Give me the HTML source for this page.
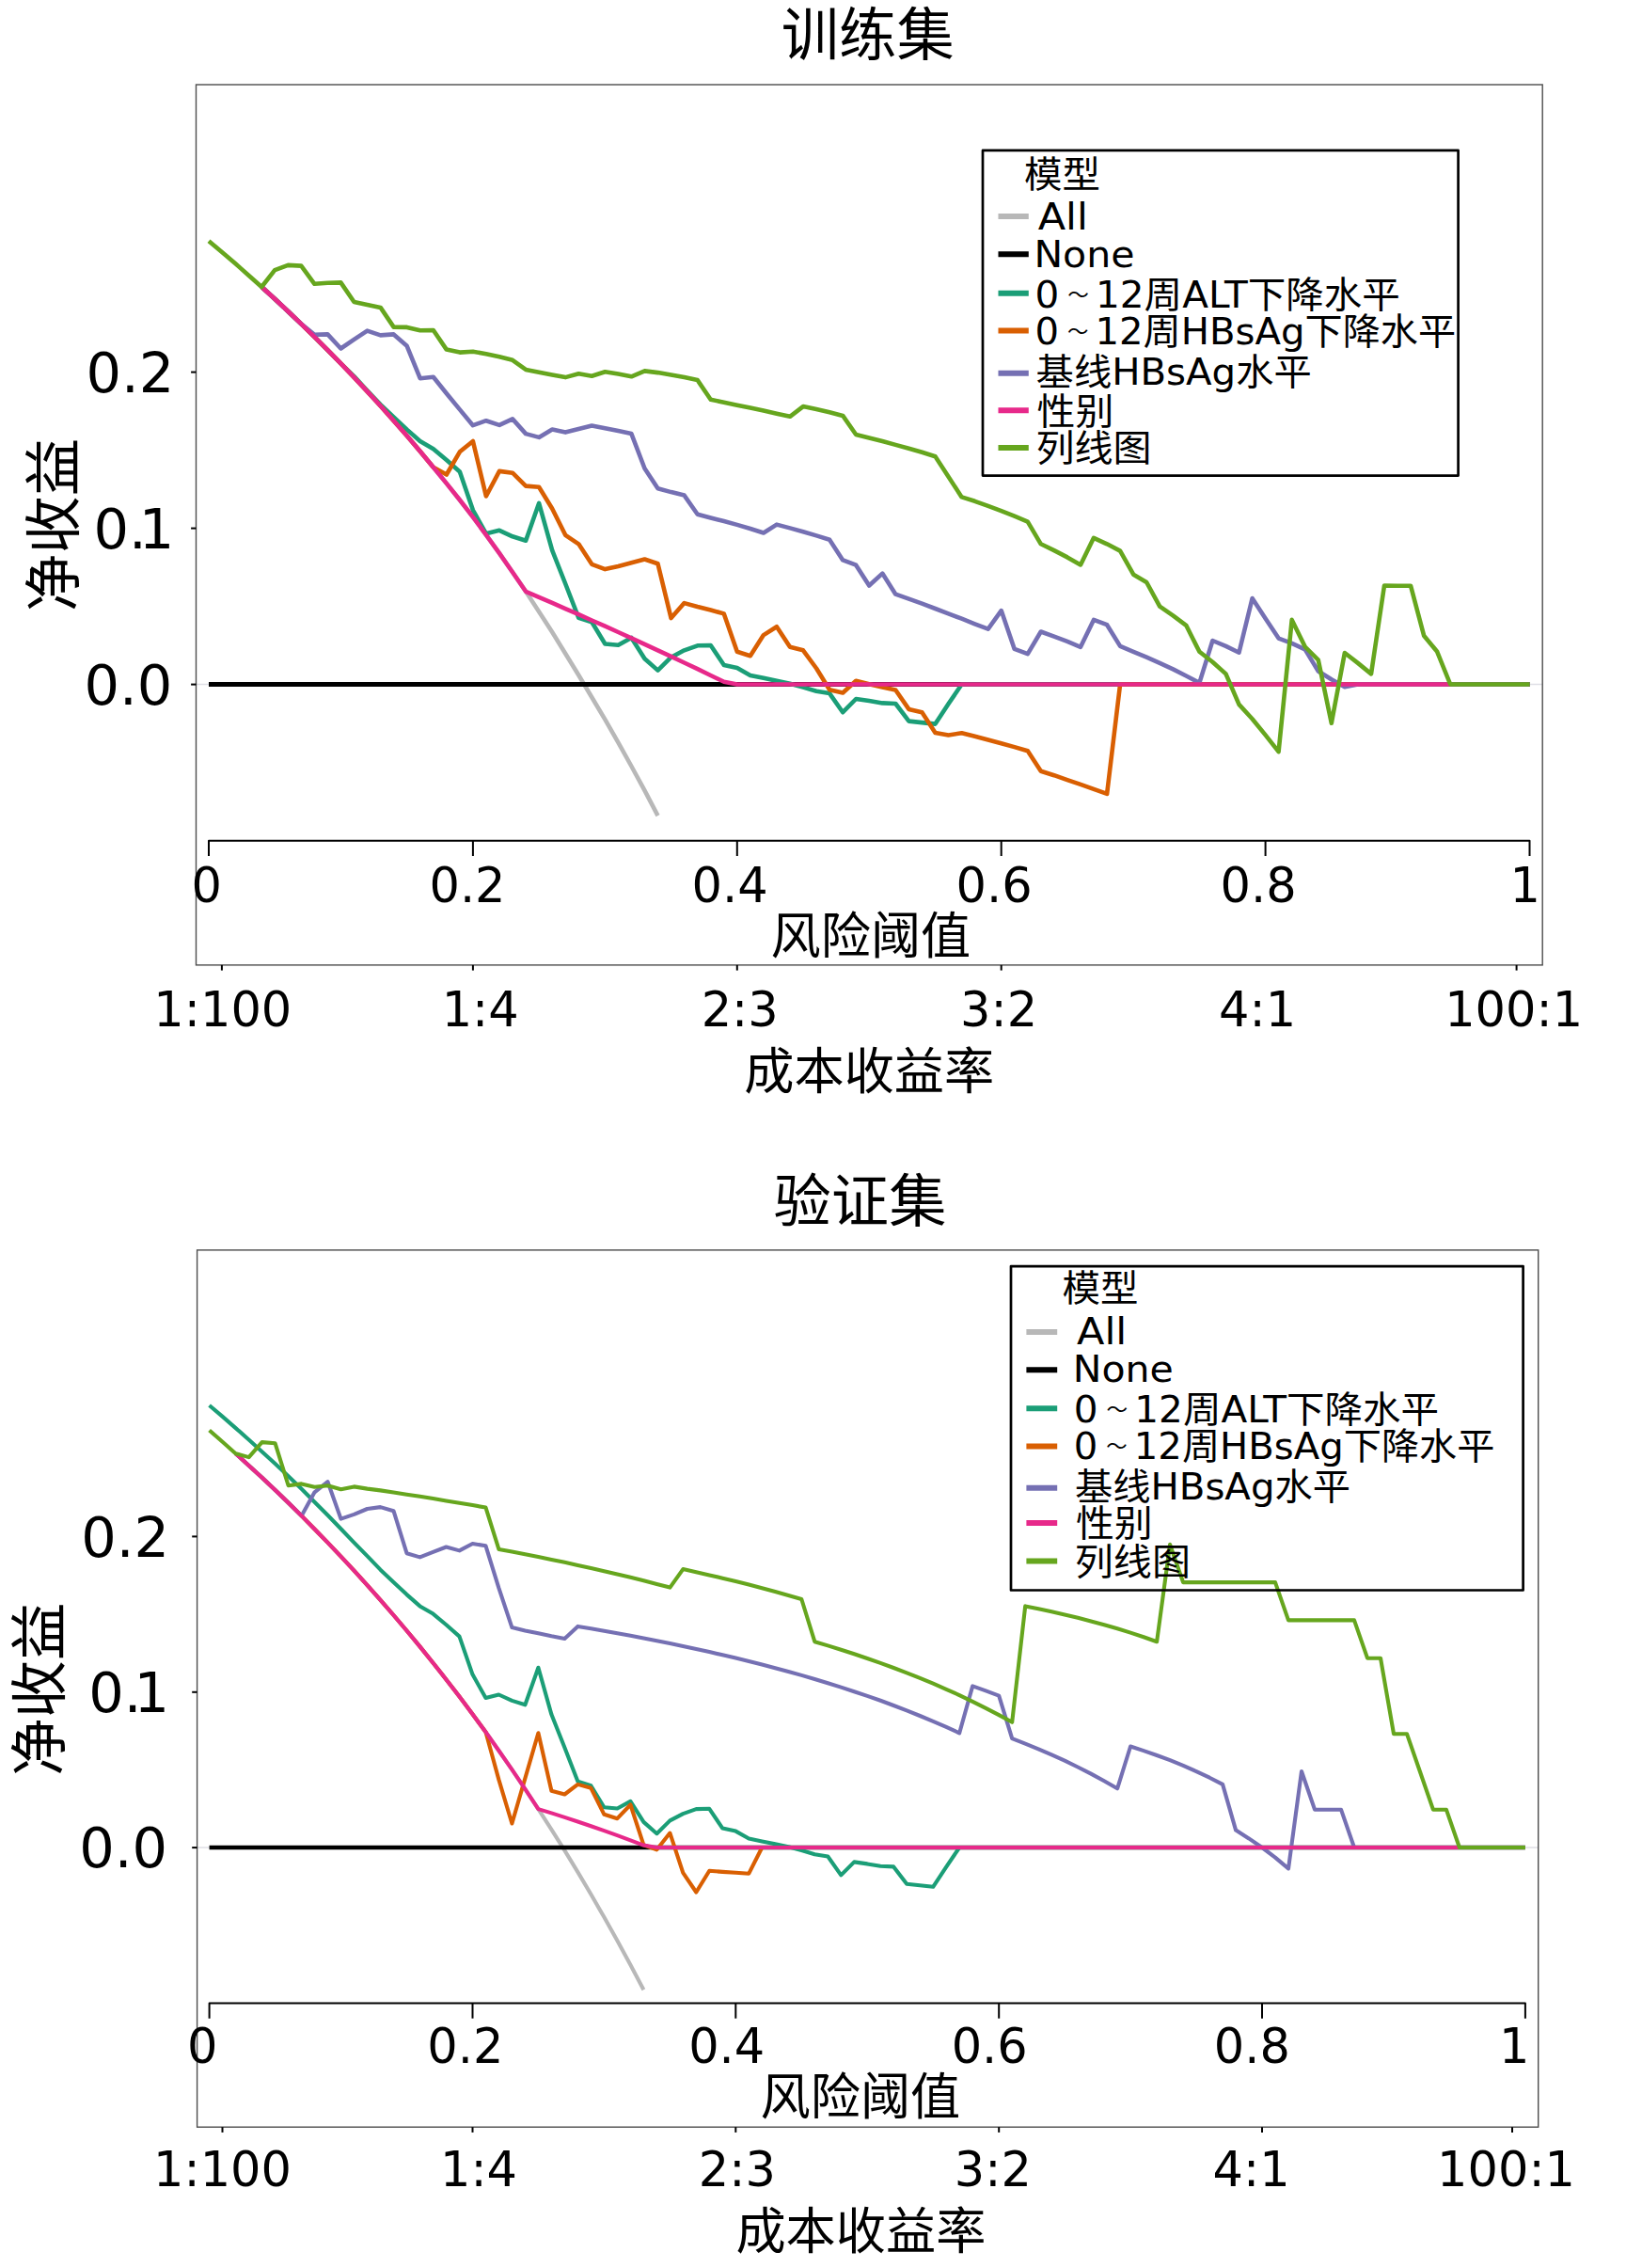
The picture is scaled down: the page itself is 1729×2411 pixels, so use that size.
<!DOCTYPE html>
<html lang="zh-CN">
<head>
<meta charset="utf-8">
<title>决策曲线分析 训练集 / 验证集</title>
<style>
html,body{margin:0;padding:0;background:#fff;}
body{width:1729px;height:2411px;overflow:hidden;}
svg{display:block;}
text{font-family:"DejaVu Sans","Liberation Sans","Noto Sans CJK SC",sans-serif;white-space:pre;}
</style>
</head>
<body>
<svg width="1729" height="2411" viewBox="0 0 1729 2411" font-family='"DejaVu Sans","Liberation Sans","Noto Sans CJK SC",sans-serif' fill="#000">
<rect x="0" y="0" width="1729" height="2411" fill="#fff"/>
<!-- top chart -->
<line x1="208.5" y1="727.5" x2="1640.2" y2="727.5" stroke="#dfdfe6" stroke-width="1.3"/>
<g fill="none" stroke-width="4.6" stroke-linejoin="round" stroke-linecap="butt">
<path d="M278.2,305.0 L292.2,317.8 L306.3,331.0 L320.3,344.4 L334.4,358.1 L348.4,372.1 L362.4,386.4 L376.5,401.1 L390.5,416.1 L404.6,431.5 L418.6,447.2 L432.7,463.3 L446.7,479.8 L460.8,496.7 L474.8,513.9 L488.9,531.5 L502.9,549.6 L516.9,568.6 L531.0,588.2 L545.0,608.2 L559.1,628.8 L573.1,650.2 L587.2,672.1 L601.2,694.7 L615.3,717.8 L629.3,741.2 L643.4,764.9 L657.4,789.4 L671.4,814.5 L685.5,840.4 L699.5,867.1" stroke="#b8b8b8"/>
<path d="M222.0,727.5 L1626.5,727.5" stroke="#000000" stroke-width="4.8"/>
<path d="M278.2,305.0 L292.2,317.8 L306.3,331.0 L320.3,344.4 L334.4,358.1 L348.4,372.1 L362.4,386.4 L376.5,400.1 L390.5,415.3 L404.6,430.1 L418.6,443.4 L432.7,456.6 L446.7,469.0 L460.8,477.3 L474.8,489.1 L488.9,501.5 L502.9,542.3 L516.9,567.3 L531.0,563.8 L545.0,570.3 L559.1,574.7 L573.1,534.9 L587.2,585.1 L601.2,620.5 L615.3,656.8 L629.3,661.2 L643.4,684.5 L657.4,685.7 L671.4,678.0 L685.5,700.2 L699.5,712.6 L713.6,698.7 L727.6,691.3 L741.7,686.3 L755.7,686.0 L769.8,707.0 L783.8,709.9 L797.8,717.9 L811.9,720.8 L825.9,723.8 L840.0,726.8 L854.0,730.6 L868.1,734.7 L882.1,737.1 L896.2,757.2 L910.2,743.0 L924.2,745.1 L938.3,747.4 L952.3,748.0 L966.4,766.6 L980.4,768.1 L994.5,769.6 L1008.5,748.3 L1022.6,727.5 L1036.6,727.5 L1050.7,727.5 L1064.7,727.5 L1078.7,727.5 L1092.8,727.5 L1106.8,727.5 L1120.9,727.5 L1134.9,727.5 L1149.0,727.5 L1163.0,727.5 L1177.1,727.5 L1191.1,727.5 L1205.2,727.5 L1219.2,727.5 L1233.2,727.5 L1247.3,727.5 L1261.3,727.5 L1275.4,727.5 L1289.4,727.5 L1303.5,727.5 L1317.5,727.5 L1331.6,727.5 L1345.6,727.5 L1359.6,727.5 L1373.7,727.5 L1387.7,727.5 L1401.8,727.5 L1415.8,727.5 L1429.9,727.5 L1443.9,727.5 L1458.0,727.5 L1472.0,727.5 L1486.0,727.5 L1500.1,727.5 L1514.1,727.5 L1528.2,727.5 L1542.2,727.5 L1556.3,727.5 L1570.3,727.5 L1584.4,727.5 L1598.4,727.5 L1612.5,727.5 L1626.5,727.5" stroke="#1b9e77"/>
<path d="M278.2,305.0 L292.2,317.8 L306.3,331.0 L320.3,344.4 L334.4,358.1 L348.4,372.1 L362.4,386.4 L376.5,401.1 L390.5,416.1 L404.6,431.5 L418.6,447.2 L432.7,463.3 L446.7,479.8 L460.8,496.7 L474.8,504.5 L488.9,480.3 L502.9,469.0 L516.9,527.5 L531.0,500.9 L545.0,502.7 L559.1,516.6 L573.1,517.7 L587.2,540.8 L601.2,568.8 L615.3,578.3 L629.3,599.8 L643.4,605.1 L657.4,601.9 L671.4,598.3 L685.5,594.5 L699.5,599.2 L713.6,657.1 L727.6,641.1 L741.7,645.0 L755.7,648.5 L769.8,652.4 L783.8,692.8 L797.8,697.2 L811.9,675.1 L825.9,666.2 L840.0,687.8 L854.0,691.3 L868.1,710.5 L882.1,733.2 L896.2,736.5 L910.2,723.8 L924.2,727.3 L938.3,730.6 L952.3,733.5 L966.4,753.9 L980.4,757.2 L994.5,779.0 L1008.5,781.4 L1022.6,779.3 L1036.6,782.8 L1050.7,786.4 L1064.7,790.2 L1078.7,794.1 L1092.8,798.2 L1106.8,819.7 L1120.9,824.2 L1134.9,829.2 L1149.0,833.9 L1163.0,838.9 L1177.1,843.9 L1191.1,727.5 L1205.2,727.5 L1219.2,727.5 L1233.2,727.5 L1247.3,727.5 L1261.3,727.5 L1275.4,727.5 L1289.4,727.5 L1303.5,727.5 L1317.5,727.5 L1331.6,727.5 L1345.6,727.5 L1359.6,727.5 L1373.7,727.5 L1387.7,727.5 L1401.8,727.5 L1415.8,727.5 L1429.9,727.5 L1443.9,727.5 L1458.0,727.5 L1472.0,727.5 L1486.0,727.5 L1500.1,727.5 L1514.1,727.5 L1528.2,727.5 L1542.2,727.5 L1556.3,727.5 L1570.3,727.5 L1584.4,727.5 L1598.4,727.5 L1612.5,727.5 L1626.5,727.5" stroke="#d95f02"/>
<path d="M278.2,305.0 L292.2,317.8 L306.3,331.0 L320.3,344.4 L334.4,355.7 L348.4,355.4 L362.4,370.5 L376.5,360.9 L390.5,351.6 L404.6,356.4 L418.6,355.4 L432.7,367.8 L446.7,402.2 L460.8,400.8 L474.8,418.3 L488.9,435.4 L502.9,452.2 L516.9,447.2 L531.0,451.9 L545.0,445.4 L559.1,461.1 L573.1,464.9 L587.2,456.6 L601.2,459.6 L615.3,456.1 L629.3,452.5 L643.4,455.2 L657.4,458.1 L671.4,461.1 L685.5,498.0 L699.5,519.2 L713.6,523.1 L727.6,526.6 L741.7,546.7 L755.7,550.5 L769.8,554.1 L783.8,557.9 L797.8,562.0 L811.9,566.5 L825.9,557.6 L840.0,561.4 L854.0,565.3 L868.1,569.4 L882.1,573.8 L896.2,595.4 L910.2,600.7 L924.2,622.5 L938.3,609.6 L952.3,631.7 L966.4,636.7 L980.4,641.7 L994.5,647.0 L1008.5,652.4 L1022.6,657.7 L1036.6,663.3 L1050.7,668.6 L1064.7,649.1 L1078.7,689.9 L1092.8,695.2 L1106.8,671.5 L1120.9,676.6 L1134.9,681.9 L1149.0,687.8 L1163.0,658.9 L1177.1,664.2 L1191.1,686.9 L1205.2,692.8 L1219.2,698.7 L1233.2,704.9 L1247.3,711.4 L1261.3,718.5 L1275.4,725.9 L1289.4,681.0 L1303.5,686.9 L1317.5,693.7 L1331.6,636.1 L1345.6,657.4 L1359.6,678.6 L1373.7,683.9 L1387.7,690.4 L1401.8,713.5 L1415.8,722.3 L1429.9,730.3 L1443.9,727.5 L1458.0,727.5 L1472.0,727.5 L1486.0,727.5 L1500.1,727.5 L1514.1,727.5 L1528.2,727.5 L1542.2,727.5 L1556.3,727.5 L1570.3,727.5 L1584.4,727.5 L1598.4,727.5 L1612.5,727.5 L1626.5,727.5" stroke="#7570b3"/>
<path d="M278.2,305.0 L292.2,317.8 L306.3,331.0 L320.3,344.4 L334.4,358.1 L348.4,372.1 L362.4,386.4 L376.5,401.1 L390.5,416.1 L404.6,431.5 L418.6,447.2 L432.7,463.3 L446.7,479.8 L460.8,496.7 L474.8,513.9 L488.9,531.5 L502.9,549.6 L516.9,568.6 L531.0,588.2 L545.0,608.2 L559.1,628.8 L573.1,634.9 L587.2,640.9 L601.2,647.1 L615.3,653.2 L629.3,659.5 L643.4,665.7 L657.4,672.0 L671.4,678.4 L685.5,684.9 L699.5,691.4 L713.6,697.9 L727.6,704.5 L741.7,711.2 L755.7,718.0 L769.8,724.8 L783.8,727.5 L797.8,727.5 L811.9,727.5 L825.9,727.5 L840.0,727.5 L854.0,727.5 L868.1,727.5 L882.1,727.5 L896.2,727.5 L910.2,727.5 L924.2,727.5 L938.3,727.5 L952.3,727.5 L966.4,727.5 L980.4,727.5 L994.5,727.5 L1008.5,727.5 L1022.6,727.5 L1036.6,727.5 L1050.7,727.5 L1064.7,727.5 L1078.7,727.5 L1092.8,727.5 L1106.8,727.5 L1120.9,727.5 L1134.9,727.5 L1149.0,727.5 L1163.0,727.5 L1177.1,727.5 L1191.1,727.5 L1205.2,727.5 L1219.2,727.5 L1233.2,727.5 L1247.3,727.5 L1261.3,727.5 L1275.4,727.5 L1289.4,727.5 L1303.5,727.5 L1317.5,727.5 L1331.6,727.5 L1345.6,727.5 L1359.6,727.5 L1373.7,727.5 L1387.7,727.5 L1401.8,727.5 L1415.8,727.5 L1429.9,727.5 L1443.9,727.5 L1458.0,727.5 L1472.0,727.5 L1486.0,727.5 L1500.1,727.5 L1514.1,727.5 L1528.2,727.5 L1542.2,727.5" stroke="#e7298a"/>
<path d="M222.0,256.2 L236.0,268.0 L250.1,280.1 L264.1,292.4 L278.2,305.0 L292.2,287.1 L306.3,281.9 L320.3,282.6 L334.4,301.8 L348.4,300.8 L362.4,300.4 L376.5,321.0 L390.5,324.0 L404.6,326.9 L418.6,347.6 L432.7,347.9 L446.7,351.3 L460.8,351.0 L474.8,371.6 L488.9,374.6 L502.9,373.7 L516.9,376.3 L531.0,379.3 L545.0,382.8 L559.1,392.9 L573.1,395.8 L587.2,398.5 L601.2,401.1 L615.3,397.3 L629.3,399.7 L643.4,395.2 L657.4,397.6 L671.4,400.3 L685.5,394.4 L699.5,396.1 L713.6,398.5 L727.6,401.1 L741.7,404.1 L755.7,424.8 L769.8,427.7 L783.8,430.7 L797.8,433.6 L811.9,436.6 L825.9,439.8 L840.0,442.8 L854.0,432.1 L868.1,435.1 L882.1,438.3 L896.2,441.9 L910.2,462.0 L924.2,465.5 L938.3,469.0 L952.3,472.9 L966.4,476.7 L980.4,480.8 L994.5,485.3 L1008.5,506.8 L1022.6,528.4 L1036.6,532.8 L1050.7,537.8 L1064.7,543.1 L1078.7,548.7 L1092.8,554.6 L1106.8,578.3 L1120.9,585.1 L1134.9,592.4 L1149.0,600.4 L1163.0,571.8 L1177.1,578.3 L1191.1,585.6 L1205.2,610.7 L1219.2,619.0 L1233.2,644.7 L1247.3,654.4 L1261.3,664.8 L1275.4,692.8 L1289.4,703.7 L1303.5,716.4 L1317.5,748.9 L1331.6,764.2 L1345.6,781.4 L1359.6,799.1 L1373.7,658.9 L1387.7,687.5 L1401.8,701.7 L1415.8,768.7 L1429.9,694.0 L1443.9,704.9 L1458.0,716.4 L1472.0,622.5 L1486.0,622.8 L1500.1,622.8 L1514.1,675.7 L1528.2,692.8 L1542.2,727.5 L1556.3,727.5 L1570.3,727.5 L1584.4,727.5 L1598.4,727.5 L1612.5,727.5 L1626.5,727.5" stroke="#66a61e"/>
</g>
<rect x="208.5" y="90.0" width="1431.7" height="935.9" fill="none" stroke="#4d4d4d" stroke-width="1.4"/>
<line x1="203.1" y1="395.6" x2="208.5" y2="395.6" stroke="#000" stroke-width="2.0"/>
<text x="91.40" y="416.70" font-size="59">0.2</text>
<line x1="203.1" y1="561.6" x2="208.5" y2="561.6" stroke="#000" stroke-width="2.0"/>
<text x="99.40" y="582.70" font-size="59">0.<tspan dx="-8">1</tspan></text>
<line x1="203.1" y1="727.6" x2="208.5" y2="727.6" stroke="#000" stroke-width="2.0"/>
<text x="89.40" y="748.70" font-size="59">0.0</text>
<text transform="translate(78.60,650.30) rotate(-90)" font-size="61.5">净收益</text>
<text x="830.80" y="59.30" font-size="61.3">训练集</text>
<path d="M222.0,910.0 V893.8 H1626.5 V910.0" fill="none" stroke="#000" stroke-width="2" stroke-linejoin="round"/>
<text x="203.60" y="959.30" font-size="51">0</text>
<line x1="502.9" y1="893.8" x2="502.9" y2="910.0" stroke="#000" stroke-width="2.0"/>
<text x="456.45" y="959.30" font-size="51">0.2</text>
<line x1="783.8" y1="893.8" x2="783.8" y2="910.0" stroke="#000" stroke-width="2.0"/>
<text x="735.60" y="959.30" font-size="51">0.4</text>
<line x1="1064.7" y1="893.8" x2="1064.7" y2="910.0" stroke="#000" stroke-width="2.0"/>
<text x="1016.50" y="959.30" font-size="51">0.6</text>
<line x1="1345.6" y1="893.8" x2="1345.6" y2="910.0" stroke="#000" stroke-width="2.0"/>
<text x="1297.60" y="959.30" font-size="51">0.8</text>
<text x="1605.60" y="959.30" font-size="51">1</text>
<text x="819.50" y="1014.40" font-size="53.2">风险阈值</text>
<line x1="235.9" y1="1025.9" x2="235.9" y2="1031.6" stroke="#000" stroke-width="2.0"/>
<text x="163.30" y="1091.10" font-size="51">1:100</text>
<line x1="502.9" y1="1025.9" x2="502.9" y2="1031.6" stroke="#000" stroke-width="2.0"/>
<text x="469.65" y="1091.10" font-size="51">1:4</text>
<line x1="783.8" y1="1025.9" x2="783.8" y2="1031.6" stroke="#000" stroke-width="2.0"/>
<text x="745.65" y="1091.10" font-size="51">2:3</text>
<line x1="1064.7" y1="1025.9" x2="1064.7" y2="1031.6" stroke="#000" stroke-width="2.0"/>
<text x="1021.10" y="1091.10" font-size="51">3:2</text>
<text x="1296.00" y="1091.10" font-size="51">4:1</text>
<line x1="1612.6" y1="1025.9" x2="1612.6" y2="1031.6" stroke="#000" stroke-width="2.0"/>
<text x="1536.15" y="1091.10" font-size="51">100:1</text>
<text x="791.25" y="1158.20" font-size="53.2">成本收益率</text>
<rect x="1045.0" y="159.9" width="505.6" height="345.7" fill="none" stroke="#000" stroke-width="2.7" stroke-linejoin="round"/>
<text x="1088.90" y="199.30" font-size="38.6" textLength="81.01" lengthAdjust="spacingAndGlyphs">模型</text>
<line x1="1061.5" y1="230.0" x2="1093.8" y2="230.0" stroke="#b8b8b8" stroke-width="6.0"/>
<text x="1103.70" y="243.70" font-size="38.6" textLength="53.26" lengthAdjust="spacingAndGlyphs">All</text>
<line x1="1061.5" y1="270.2" x2="1093.8" y2="270.2" stroke="#000000" stroke-width="6.0"/>
<text x="1099.45" y="283.50" font-size="38.6" textLength="107.01" lengthAdjust="spacingAndGlyphs">None</text>
<line x1="1061.5" y1="311.7" x2="1093.8" y2="311.7" stroke="#1b9e77" stroke-width="6.0"/>
<text x="1100.55" y="326.90" font-size="38.6" textLength="388.32" lengthAdjust="spacingAndGlyphs">0<tspan font-size="21.5" dx="8.5" dy="-5.8">～</tspan><tspan dx="6.8" dy="5.8">12周ALT下降水平</tspan></text>
<line x1="1061.5" y1="351.6" x2="1093.8" y2="351.6" stroke="#d95f02" stroke-width="6.0"/>
<text x="1100.58" y="365.50" font-size="38.6" textLength="447.60" lengthAdjust="spacingAndGlyphs">0<tspan font-size="21.5" dx="8.5" dy="-5.8">～</tspan><tspan dx="6.8" dy="5.8">12周HBsAg下降水平</tspan></text>
<line x1="1061.5" y1="396.8" x2="1093.8" y2="396.8" stroke="#7570b3" stroke-width="6.0"/>
<text x="1101.61" y="409.10" font-size="38.6" textLength="293.13" lengthAdjust="spacingAndGlyphs">基线HBsAg水平</text>
<line x1="1061.5" y1="436.3" x2="1093.8" y2="436.3" stroke="#e7298a" stroke-width="6.0"/>
<text x="1102.64" y="450.60" font-size="38.6" textLength="81.81" lengthAdjust="spacingAndGlyphs">性别</text>
<line x1="1061.5" y1="476.1" x2="1093.8" y2="476.1" stroke="#66a61e" stroke-width="6.0"/>
<text x="1101.57" y="490.45" font-size="38.6" textLength="123.03" lengthAdjust="spacingAndGlyphs">列线图</text>
<!-- bottom chart -->
<line x1="209.6" y1="1964.0" x2="1635.7" y2="1964.0" stroke="#dfdfe6" stroke-width="1.3"/>
<g fill="none" stroke-width="4.1" stroke-linejoin="round" stroke-linecap="butt">
<path d="M250.6,1545.2 L264.6,1557.9 L278.6,1570.8 L292.6,1584.1 L306.6,1597.6 L320.6,1611.4 L334.5,1625.5 L348.5,1639.9 L362.5,1654.6 L376.5,1669.7 L390.5,1685.1 L404.5,1700.9 L418.5,1717.0 L432.5,1733.5 L446.5,1750.4 L460.5,1767.7 L474.5,1785.4 L488.5,1803.6 L502.5,1822.2 L516.5,1841.3 L530.4,1861.0 L544.4,1881.1 L558.4,1901.8 L572.4,1923.1 L586.4,1944.8 L600.4,1967.2 L614.4,1990.1 L628.4,2013.8 L642.4,2038.1 L656.4,2063.1 L670.4,2088.8 L684.4,2115.3" stroke="#b8b8b8"/>
<path d="M222.6,1964.0 L1621.9,1964.0" stroke="#000000" stroke-width="4.3"/>
<path d="M222.6,1494.0 L236.6,1505.9 L250.6,1518.1 L264.6,1530.5 L278.6,1543.2 L292.6,1556.1 L306.6,1569.3 L320.6,1582.8 L334.5,1596.7 L348.5,1610.8 L362.5,1625.2 L376.5,1639.9 L390.5,1654.1 L404.5,1668.7 L418.5,1681.9 L432.5,1695.1 L446.5,1707.4 L460.5,1715.6 L474.5,1727.3 L488.5,1739.6 L502.5,1780.1 L516.5,1805.0 L530.4,1801.5 L544.4,1807.9 L558.4,1812.3 L572.4,1772.8 L586.4,1822.6 L600.4,1857.8 L614.4,1893.8 L628.4,1898.2 L642.4,1921.3 L656.4,1922.5 L670.4,1914.9 L684.4,1936.9 L698.4,1949.2 L712.4,1935.4 L726.3,1928.1 L740.3,1923.1 L754.3,1922.8 L768.3,1943.6 L782.3,1946.6 L796.3,1954.5 L810.3,1957.4 L824.3,1960.3 L838.3,1963.3 L852.3,1967.1 L866.3,1971.2 L880.3,1973.5 L894.3,1993.4 L908.3,1979.4 L922.2,1981.4 L936.2,1983.8 L950.2,1984.4 L964.2,2002.8 L978.2,2004.3 L992.2,2005.8 L1006.2,1984.7 L1020.2,1964.0 L1034.2,1964.0 L1048.2,1964.0 L1062.2,1964.0 L1076.2,1964.0 L1090.2,1964.0 L1104.2,1964.0 L1118.2,1964.0 L1132.1,1964.0 L1146.1,1964.0 L1160.1,1964.0 L1174.1,1964.0 L1188.1,1964.0 L1202.1,1964.0 L1216.1,1964.0 L1230.1,1964.0 L1244.1,1964.0 L1258.1,1964.0 L1272.1,1964.0 L1286.1,1964.0 L1300.1,1964.0 L1314.1,1964.0 L1328.0,1964.0 L1342.0,1964.0 L1356.0,1964.0 L1370.0,1964.0 L1384.0,1964.0 L1398.0,1964.0 L1412.0,1964.0 L1426.0,1964.0 L1440.0,1964.0 L1454.0,1964.0 L1468.0,1964.0 L1482.0,1964.0 L1496.0,1964.0 L1510.0,1964.0 L1523.9,1964.0 L1537.9,1964.0 L1551.9,1964.0 L1565.9,1964.0 L1579.9,1964.0 L1593.9,1964.0 L1607.9,1964.0 L1621.9,1964.0" stroke="#1b9e77"/>
<path d="M250.6,1545.2 L264.6,1557.9 L278.6,1570.8 L292.6,1584.1 L306.6,1597.6 L320.6,1611.4 L334.5,1625.5 L348.5,1639.9 L362.5,1654.6 L376.5,1669.7 L390.5,1685.1 L404.5,1700.9 L418.5,1717.0 L432.5,1733.5 L446.5,1750.4 L460.5,1767.7 L474.5,1785.4 L488.5,1803.6 L502.5,1822.2 L516.5,1841.3 L530.4,1891.9 L544.4,1938.5 L558.4,1890.4 L572.4,1842.3 L586.4,1903.7 L600.4,1907.5 L614.4,1896.9 L628.4,1900.8 L642.4,1928.8 L656.4,1933.2 L670.4,1918.5 L684.4,1961.3 L698.4,1966.3 L712.4,1948.6 L726.3,1990.8 L740.3,2011.5 L754.3,1988.7 L768.3,1989.9 L782.3,1990.8 L796.3,1991.7 L810.3,1964.0 L824.3,1964.0 L838.3,1964.0 L852.3,1964.0 L866.3,1964.0 L880.3,1964.0 L894.3,1964.0 L908.3,1964.0 L922.2,1964.0 L936.2,1964.0 L950.2,1964.0 L964.2,1964.0 L978.2,1964.0 L992.2,1964.0 L1006.2,1964.0 L1020.2,1964.0 L1034.2,1964.0 L1048.2,1964.0 L1062.2,1964.0 L1076.2,1964.0 L1090.2,1964.0 L1104.2,1964.0 L1118.2,1964.0 L1132.1,1964.0 L1146.1,1964.0 L1160.1,1964.0 L1174.1,1964.0 L1188.1,1964.0 L1202.1,1964.0 L1216.1,1964.0 L1230.1,1964.0 L1244.1,1964.0 L1258.1,1964.0 L1272.1,1964.0 L1286.1,1964.0 L1300.1,1964.0 L1314.1,1964.0 L1328.0,1964.0 L1342.0,1964.0 L1356.0,1964.0 L1370.0,1964.0 L1384.0,1964.0 L1398.0,1964.0 L1412.0,1964.0 L1426.0,1964.0 L1440.0,1964.0 L1454.0,1964.0 L1468.0,1964.0 L1482.0,1964.0 L1496.0,1964.0 L1510.0,1964.0 L1523.9,1964.0 L1537.9,1964.0 L1551.9,1964.0 L1565.9,1964.0 L1579.9,1964.0 L1593.9,1964.0 L1607.9,1964.0 L1621.9,1964.0" stroke="#d95f02"/>
<path d="M250.6,1545.2 L264.6,1557.9 L278.6,1570.8 L292.6,1584.1 L306.6,1597.6 L320.6,1611.4 L334.5,1586.3 L348.5,1575.2 L362.5,1614.6 L376.5,1609.9 L390.5,1604.0 L404.5,1602.1 L418.5,1606.2 L432.5,1651.2 L446.5,1655.4 L460.5,1649.8 L474.5,1644.5 L488.5,1648.4 L502.5,1641.0 L516.5,1643.3 L530.4,1688.2 L544.4,1730.1 L558.4,1733.4 L572.4,1736.3 L586.4,1739.3 L600.4,1741.9 L614.4,1728.9 L628.4,1731.3 L642.4,1733.8 L656.4,1736.3 L670.4,1738.8 L684.4,1741.5 L698.4,1744.2 L712.4,1747.0 L726.3,1750.0 L740.3,1753.0 L754.3,1756.1 L768.3,1759.3 L782.3,1762.6 L796.3,1766.0 L810.3,1769.5 L824.3,1773.2 L838.3,1777.0 L852.3,1780.9 L866.3,1785.0 L880.3,1789.2 L894.3,1793.6 L908.3,1798.2 L922.2,1802.9 L936.2,1807.8 L950.2,1813.0 L964.2,1818.4 L978.2,1824.0 L992.2,1829.8 L1006.2,1835.9 L1020.2,1842.3 L1034.2,1792.4 L1048.2,1797.4 L1062.2,1802.7 L1076.2,1848.2 L1090.2,1853.6 L1104.2,1859.3 L1118.2,1865.4 L1132.1,1871.7 L1146.1,1878.5 L1160.1,1885.6 L1174.1,1893.3 L1188.1,1901.3 L1202.1,1856.5 L1216.1,1861.1 L1230.1,1866.0 L1244.1,1871.2 L1258.1,1876.9 L1272.1,1883.1 L1286.1,1889.7 L1300.1,1896.9 L1314.1,1945.6 L1328.0,1954.4 L1342.0,1964.0 L1356.0,1974.6 L1370.0,1986.4 L1384.0,1883.0 L1398.0,1923.7 L1412.0,1923.7 L1426.0,1923.7 L1440.0,1964.0 L1454.0,1964.0 L1468.0,1964.0 L1482.0,1964.0 L1496.0,1964.0 L1510.0,1964.0 L1523.9,1964.0 L1537.9,1964.0 L1551.9,1964.0 L1565.9,1964.0 L1579.9,1964.0 L1593.9,1964.0 L1607.9,1964.0 L1621.9,1964.0" stroke="#7570b3"/>
<path d="M250.6,1545.2 L264.6,1557.9 L278.6,1570.8 L292.6,1584.1 L306.6,1597.6 L320.6,1611.4 L334.5,1625.5 L348.5,1639.9 L362.5,1654.6 L376.5,1669.7 L390.5,1685.1 L404.5,1700.9 L418.5,1717.0 L432.5,1733.5 L446.5,1750.4 L460.5,1767.7 L474.5,1785.4 L488.5,1803.6 L502.5,1822.2 L516.5,1841.3 L530.4,1861.0 L544.4,1881.1 L558.4,1901.8 L572.4,1923.1 L586.4,1927.4 L600.4,1931.9 L614.4,1936.5 L628.4,1941.2 L642.4,1946.1 L656.4,1951.1 L670.4,1956.3 L684.4,1961.6 L698.4,1964.0 L712.4,1964.0 L726.3,1964.0 L740.3,1964.0 L754.3,1964.0 L768.3,1964.0 L782.3,1964.0 L796.3,1964.0 L810.3,1964.0 L824.3,1964.0 L838.3,1964.0 L852.3,1964.0 L866.3,1964.0 L880.3,1964.0 L894.3,1964.0 L908.3,1964.0 L922.2,1964.0 L936.2,1964.0 L950.2,1964.0 L964.2,1964.0 L978.2,1964.0 L992.2,1964.0 L1006.2,1964.0 L1020.2,1964.0 L1034.2,1964.0 L1048.2,1964.0 L1062.2,1964.0 L1076.2,1964.0 L1090.2,1964.0 L1104.2,1964.0 L1118.2,1964.0 L1132.1,1964.0 L1146.1,1964.0 L1160.1,1964.0 L1174.1,1964.0 L1188.1,1964.0 L1202.1,1964.0 L1216.1,1964.0 L1230.1,1964.0 L1244.1,1964.0 L1258.1,1964.0 L1272.1,1964.0 L1286.1,1964.0 L1300.1,1964.0 L1314.1,1964.0 L1328.0,1964.0 L1342.0,1964.0 L1356.0,1964.0 L1370.0,1964.0 L1384.0,1964.0 L1398.0,1964.0 L1412.0,1964.0 L1426.0,1964.0 L1440.0,1964.0 L1454.0,1964.0 L1468.0,1964.0 L1482.0,1964.0 L1496.0,1964.0 L1510.0,1964.0 L1523.9,1964.0 L1537.9,1964.0 L1551.9,1964.0" stroke="#e7298a"/>
<path d="M222.6,1520.5 L236.6,1532.7 L250.6,1545.2 L264.6,1549.1 L278.6,1533.1 L292.6,1534.3 L306.6,1579.2 L320.6,1577.4 L334.5,1580.8 L348.5,1579.2 L362.5,1583.3 L376.5,1580.4 L390.5,1582.6 L404.5,1584.4 L418.5,1586.5 L432.5,1588.7 L446.5,1590.8 L460.5,1593.1 L474.5,1595.4 L488.5,1597.7 L502.5,1600.1 L516.5,1602.6 L530.4,1646.9 L544.4,1649.5 L558.4,1652.2 L572.4,1655.0 L586.4,1657.9 L600.4,1660.8 L614.4,1663.9 L628.4,1667.0 L642.4,1670.2 L656.4,1673.5 L670.4,1676.8 L684.4,1680.3 L698.4,1683.9 L712.4,1687.6 L726.3,1668.1 L740.3,1671.2 L754.3,1674.4 L768.3,1677.7 L782.3,1681.1 L796.3,1684.6 L810.3,1688.3 L824.3,1692.1 L838.3,1696.0 L852.3,1700.0 L866.3,1745.2 L880.3,1749.4 L894.3,1753.7 L908.3,1758.3 L922.2,1763.0 L936.2,1767.9 L950.2,1773.0 L964.2,1778.3 L978.2,1783.9 L992.2,1789.7 L1006.2,1795.8 L1020.2,1802.1 L1034.2,1808.8 L1048.2,1815.8 L1062.2,1823.1 L1076.2,1830.8 L1090.2,1707.4 L1104.2,1710.3 L1118.2,1713.3 L1132.1,1716.5 L1146.1,1719.8 L1160.1,1723.4 L1174.1,1727.2 L1188.1,1731.3 L1202.1,1735.6 L1216.1,1740.2 L1230.1,1745.2 L1244.1,1641.9 L1258.1,1682.1 L1272.1,1682.1 L1286.1,1682.1 L1300.1,1682.1 L1314.1,1682.1 L1328.0,1682.1 L1342.0,1682.1 L1356.0,1682.1 L1370.0,1722.4 L1384.0,1722.4 L1398.0,1722.4 L1412.0,1722.4 L1426.0,1722.4 L1440.0,1722.4 L1454.0,1762.7 L1468.0,1762.7 L1482.0,1843.2 L1496.0,1843.2 L1510.0,1883.5 L1523.9,1923.7 L1537.9,1923.7 L1551.9,1964.0 L1565.9,1964.0 L1579.9,1964.0 L1593.9,1964.0 L1607.9,1964.0 L1621.9,1964.0" stroke="#66a61e"/>
</g>
<rect x="209.6" y="1328.9" width="1426.1" height="932.3" fill="none" stroke="#4d4d4d" stroke-width="1.4"/>
<line x1="204.2" y1="1633.4" x2="209.6" y2="1633.4" stroke="#000" stroke-width="2.0"/>
<text x="86.30" y="1654.50" font-size="59">0.2</text>
<line x1="204.2" y1="1798.8" x2="209.6" y2="1798.8" stroke="#000" stroke-width="2.0"/>
<text x="94.30" y="1819.85" font-size="59">0.<tspan dx="-8">1</tspan></text>
<line x1="204.2" y1="1964.1" x2="209.6" y2="1964.1" stroke="#000" stroke-width="2.0"/>
<text x="84.30" y="1985.20" font-size="59">0.0</text>
<text transform="translate(63.90,1888.00) rotate(-90)" font-size="61.5">净收益</text>
<text x="822.55" y="1299.00" font-size="61.3">验证集</text>
<path d="M222.6,2145.7 V2129.5 H1621.9 V2145.7" fill="none" stroke="#000" stroke-width="2" stroke-linejoin="round"/>
<text x="198.90" y="2192.95" font-size="51">0</text>
<line x1="502.5" y1="2129.5" x2="502.5" y2="2145.7" stroke="#000" stroke-width="2.0"/>
<text x="454.35" y="2192.95" font-size="51">0.2</text>
<line x1="782.3" y1="2129.5" x2="782.3" y2="2145.7" stroke="#000" stroke-width="2.0"/>
<text x="732.15" y="2192.95" font-size="51">0.4</text>
<line x1="1062.2" y1="2129.5" x2="1062.2" y2="2145.7" stroke="#000" stroke-width="2.0"/>
<text x="1011.65" y="2192.95" font-size="51">0.6</text>
<line x1="1342.0" y1="2129.5" x2="1342.0" y2="2145.7" stroke="#000" stroke-width="2.0"/>
<text x="1290.80" y="2192.95" font-size="51">0.8</text>
<text x="1594.10" y="2192.95" font-size="51">1</text>
<text x="808.50" y="2247.75" font-size="53.2">风险阈值</text>
<line x1="236.5" y1="2261.2" x2="236.5" y2="2266.9" stroke="#000" stroke-width="2.0"/>
<text x="163.00" y="2324.10" font-size="51">1:100</text>
<line x1="502.5" y1="2261.2" x2="502.5" y2="2266.9" stroke="#000" stroke-width="2.0"/>
<text x="467.95" y="2324.10" font-size="51">1:4</text>
<line x1="782.3" y1="2261.2" x2="782.3" y2="2266.9" stroke="#000" stroke-width="2.0"/>
<text x="742.75" y="2324.10" font-size="51">2:3</text>
<line x1="1062.2" y1="2261.2" x2="1062.2" y2="2266.9" stroke="#000" stroke-width="2.0"/>
<text x="1014.85" y="2324.10" font-size="51">3:2</text>
<line x1="1342.0" y1="2261.2" x2="1342.0" y2="2266.9" stroke="#000" stroke-width="2.0"/>
<text x="1289.50" y="2324.10" font-size="51">4:1</text>
<line x1="1608.0" y1="2261.2" x2="1608.0" y2="2266.9" stroke="#000" stroke-width="2.0"/>
<text x="1528.10" y="2324.10" font-size="51">100:1</text>
<text x="782.40" y="2391.00" font-size="53.2">成本收益率</text>
<rect x="1075.0" y="1346.1" width="544.6" height="344.4" fill="none" stroke="#000" stroke-width="2.7" stroke-linejoin="round"/>
<text x="1129.40" y="1382.85" font-size="38.6" textLength="81.01" lengthAdjust="spacingAndGlyphs">模型</text>
<line x1="1091.4" y1="1416.0" x2="1124.2" y2="1416.0" stroke="#b8b8b8" stroke-width="6.0"/>
<text x="1145.00" y="1428.50" font-size="38.6" textLength="53.26" lengthAdjust="spacingAndGlyphs">All</text>
<line x1="1091.4" y1="1456.3" x2="1124.2" y2="1456.3" stroke="#000000" stroke-width="6.0"/>
<text x="1140.75" y="1468.80" font-size="38.6" textLength="107.01" lengthAdjust="spacingAndGlyphs">None</text>
<line x1="1091.4" y1="1497.3" x2="1124.2" y2="1497.3" stroke="#1b9e77" stroke-width="6.0"/>
<text x="1141.85" y="1511.80" font-size="38.6" textLength="388.32" lengthAdjust="spacingAndGlyphs">0<tspan font-size="21.5" dx="8.5" dy="-5.8">～</tspan><tspan dx="6.8" dy="5.8">12周ALT下降水平</tspan></text>
<line x1="1091.4" y1="1537.6" x2="1124.2" y2="1537.6" stroke="#d95f02" stroke-width="6.0"/>
<text x="1141.88" y="1550.80" font-size="38.6" textLength="447.60" lengthAdjust="spacingAndGlyphs">0<tspan font-size="21.5" dx="8.5" dy="-5.8">～</tspan><tspan dx="6.8" dy="5.8">12周HBsAg下降水平</tspan></text>
<line x1="1091.4" y1="1581.8" x2="1124.2" y2="1581.8" stroke="#7570b3" stroke-width="6.0"/>
<text x="1142.91" y="1594.10" font-size="38.6" textLength="293.13" lengthAdjust="spacingAndGlyphs">基线HBsAg水平</text>
<line x1="1091.4" y1="1619.0" x2="1124.2" y2="1619.0" stroke="#e7298a" stroke-width="6.0"/>
<text x="1143.94" y="1633.10" font-size="38.6" textLength="81.81" lengthAdjust="spacingAndGlyphs">性别</text>
<line x1="1091.4" y1="1659.6" x2="1124.2" y2="1659.6" stroke="#66a61e" stroke-width="6.0"/>
<text x="1142.87" y="1674.10" font-size="38.6" textLength="123.03" lengthAdjust="spacingAndGlyphs">列线图</text>
</svg>
</body>
</html>
